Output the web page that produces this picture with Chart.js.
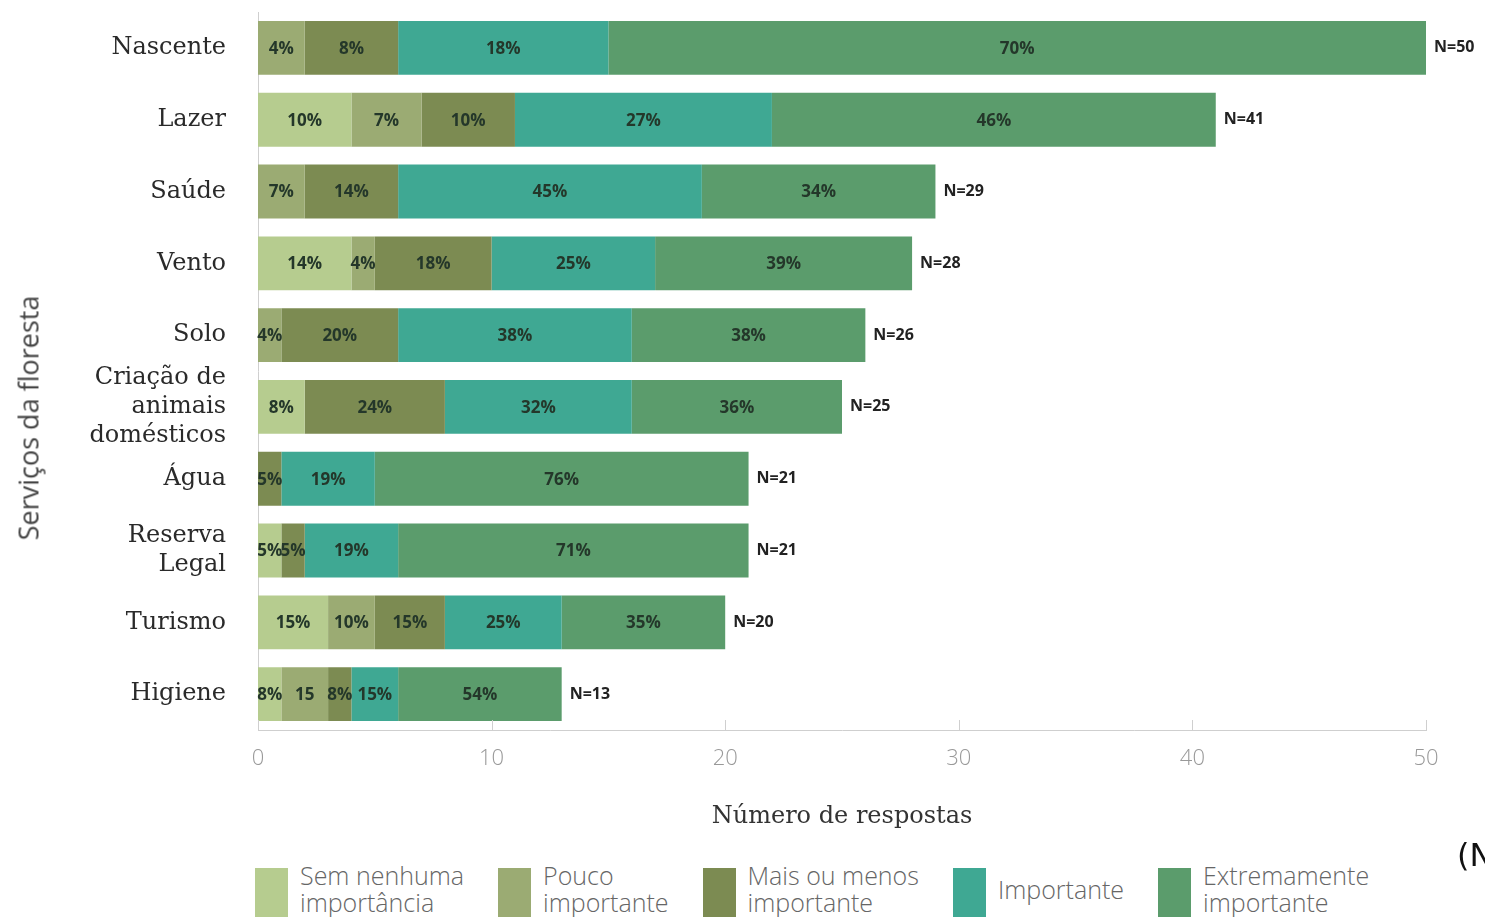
<!DOCTYPE html>
<html lang="pt">
<head>
<meta charset="utf-8">
<title>Serviços da floresta</title>
<script src="https://cdn.jsdelivr.net/npm/chart.js@4.4.1/dist/chart.umd.min.js"></script>
<style>
  html, body { margin: 0; padding: 0; background: #fff; }
  body { width: 1485px; height: 917px; position: relative; overflow: hidden; }
  #chart { position: absolute; left: 0; top: 0; }
  #ytitle {
    position: absolute; left: 28px; top: 418px;
    transform: translate(-50%, -50%) rotate(-90deg);
    font: 27px "Open Sans"; color: #444; white-space: nowrap;
  }
  #legend { position: absolute; left: 255px; top: 866px; display: flex; }
  .item { display: flex; align-items: center; margin-right: 34px; }
  .box { width: 33px; height: 51px; margin-right: 12px; flex: none; }
  .txt { font: 300 25px/27px "Open Sans"; color: #666; white-space: nowrap; position: relative; top: -4px; }
  #cut { position: absolute; left: 1457px; top: 836px; font: 32px "DejaVu Sans"; color: #111; white-space: nowrap; }
</style>
</head>
<body>
<canvas id="chart" width="1485" height="845"></canvas>
<div id="ytitle">Serviços da floresta</div>
<div id="legend"></div>
<div id="cut">(N</div>
<script>
// ===== Data =====
const categories = ['Nascente', 'Lazer', 'Saúde', 'Vento', 'Solo',
  ['Criação de', 'animais', 'domésticos'], 'Água', ['Reserva', 'Legal'], 'Turismo', 'Higiene'];

const seriesNames = [
  ['Sem nenhuma', 'importância'],
  ['Pouco', 'importante'],
  ['Mais ou menos', 'importante'],
  ['Importante'],
  ['Extremamente', 'importante']
];
const seriesColors = ['#b6cc8f', '#9bab73', '#7c8b52', '#3fa893', '#5b9c6c'];

// number of answers per category
const semNenhuma   = [0, 4, 0, 4, 0, 2, 0, 1, 3, 1];
const pouco        = [2, 3, 2, 1, 1, 0, 0, 0, 2, 2];
const maisOuMenos  = [4, 4, 4, 5, 5, 6, 1, 1, 3, 1];
const importante   = [9, 11, 13, 7, 10, 8, 4, 4, 5, 2];
const extremamente = [35, 19, 10, 11, 10, 9, 16, 15, 7, 7];

// percentage labels as printed on the bars
const semLabels   = ['', '10%', '', '14%', '', '8%', '', '5%', '15%', '8%'];
const poucoLabels = ['4%', '7%', '7%', '4%', '4%', '', '', '', '10%', '15'];
const maisLabels  = ['8%', '10%', '14%', '18%', '20%', '24%', '5%', '5%', '15%', '8%'];
const impLabels   = ['18%', '27%', '45%', '25%', '38%', '32%', '19%', '19%', '25%', '15%'];
const extLabels   = ['70%', '46%', '34%', '39%', '38%', '36%', '76%', '71%', '35%', '54%'];

const xTicks = [0, 10, 20, 30, 40, 50];

const seriesValues = [semNenhuma, pouco, maisOuMenos, importante, extremamente];
const seriesLabels = [semLabels, poucoLabels, maisLabels, impLabels, extLabels];
const totals = categories.map((c, i) => seriesValues.reduce((s, arr) => s + arr[i], 0));

// ===== Legend (HTML) =====
const legendEl = document.getElementById('legend');
seriesNames.forEach((name, i) => {
  const item = document.createElement('div');
  item.className = 'item';
  item.innerHTML = '<div class="box" style="background:' + seriesColors[i] + '"></div>' +
    '<div class="txt">' + name.join('<br>') + '</div>';
  legendEl.appendChild(item);
});

// ===== Labels on segments, N totals, inward tick marks =====
const barLabels = {
  id: 'barLabels',
  afterDatasetsDraw(chart) {
    const ctx = chart.ctx;
    ctx.save();
    ctx.textBaseline = 'middle';

    ctx.font = 'bold 17px "Open Sans"';
    ctx.textAlign = 'center';
    ctx.fillStyle = '#24372a';
    chart.data.datasets.forEach((ds, i) => {
      chart.getDatasetMeta(i).data.forEach((bar, j) => {
        const t = seriesLabels[i][j];
        if (!t) return;
        ctx.fillText(t, (bar.x + bar.base) / 2, bar.y + 1);
      });
    });

    // N= after the last segment
    const last = chart.getDatasetMeta(chart.data.datasets.length - 1).data;
    ctx.font = 'bold 16px "Open Sans"';
    ctx.textAlign = 'left';
    ctx.fillStyle = '#222';
    last.forEach((bar, j) => {
      ctx.fillText('N=' + totals[j], bar.x + 8, bar.y);
    });

    // small tick marks pointing up into the plot
    const xs = chart.scales.x;
    const bottom = chart.chartArea.bottom;
    ctx.strokeStyle = '#cfcfcf';
    ctx.lineWidth = 1;
    xs.ticks.forEach(t => {
      const px = Math.round(xs.getPixelForValue(t.value)) + 0.5;
      ctx.beginPath();
      ctx.moveTo(px, bottom);
      ctx.lineTo(px, bottom - 10);
      ctx.stroke();
    });
    ctx.restore();
  }
};

// ===== Chart =====
const ctx = document.getElementById('chart').getContext('2d');
new Chart(ctx, {
  type: 'bar',
  data: {
    labels: categories,
    datasets: seriesValues.map((vals, i) => ({
      label: seriesNames[i].join(' '),
      data: vals,
      backgroundColor: seriesColors[i],
      borderWidth: 0,
      barPercentage: 0.75,
      categoryPercentage: 1
    }))
  },
  options: {
    indexAxis: 'y',
    responsive: false,
    animation: false,
    layout: { padding: { top: 12, right: 59, left: 0, bottom: 0 } },
    plugins: {
      legend: { display: false },
      tooltip: { enabled: false }
    },
    scales: {
      x: {
        stacked: true,
        min: xTicks[0],
        max: xTicks[xTicks.length - 1],
        afterBuildTicks: s => { s.ticks = xTicks.map(v => ({ value: v })); },
        ticks: {
          padding: 8,
          color: '#999',
          font: { family: 'Open Sans', size: 22, weight: 300 }
        },
        grid: { display: false },
        border: { display: true, color: '#cfcfcf', width: 1 },
        title: {
          display: true,
          text: 'Número de respostas',
          color: '#333',
          font: { family: 'DejaVu Serif', size: 24 },
          padding: { top: 0, bottom: 14 }
        },
        afterFit: s => { s.height = 115; }
      },
      y: {
        stacked: true,
        ticks: {
          autoSkip: false,
          padding: 24,
          color: '#2a2a2a',
          font: { family: 'DejaVu Serif', size: 24, lineHeight: 1.22 }
        },
        grid: { display: false },
        border: { display: true, color: '#cfcfcf', width: 1 },
        afterFit: s => {
          s.width = 258;
          s.paddingTop = 0;
          s.paddingBottom = 0;
        }
      }
    }
  },
  plugins: [barLabels]
});
</script>
</body>
</html>
